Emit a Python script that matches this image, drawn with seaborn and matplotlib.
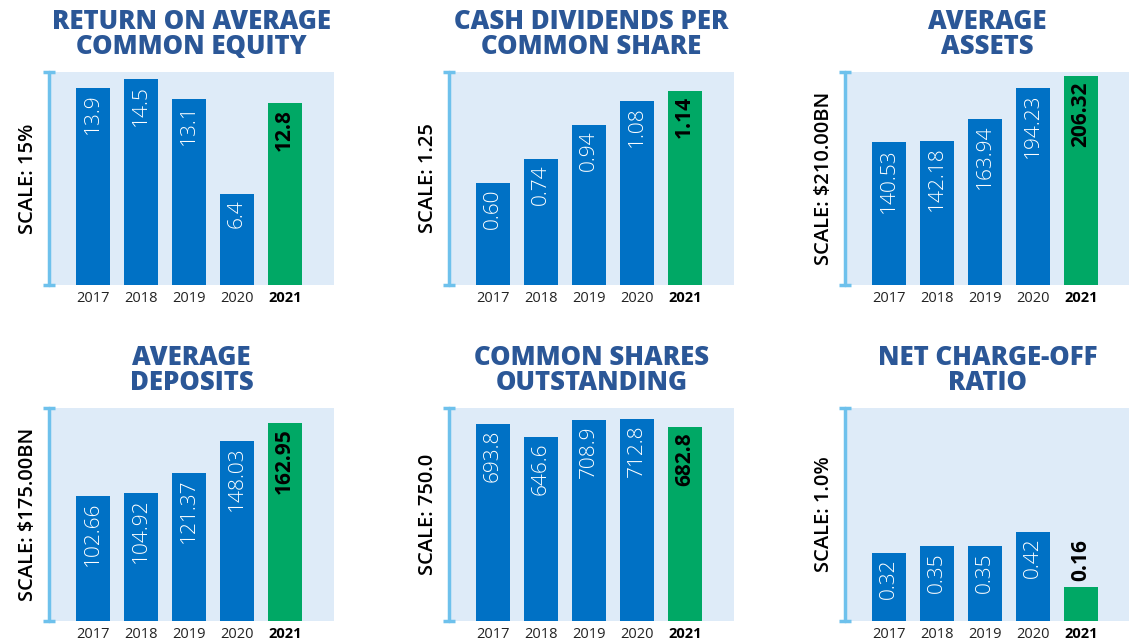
import seaborn as sns
import matplotlib.pyplot as plt

# data
years = ['2017', '2018', '2019', '2020', '2021']

titles = ['RETURN ON AVERAGE\nCOMMON EQUITY', 'CASH DIVIDENDS PER\nCOMMON SHARE', 'AVERAGE\nASSETS',
          'AVERAGE\nDEPOSITS', 'COMMON SHARES\nOUTSTANDING', 'NET CHARGE-OFF\nRATIO']
scale_labels = ['SCALE: 15%', 'SCALE: 1.25', 'SCALE: $210.00BN',
                'SCALE: $175.00BN', 'SCALE: 750.0', 'SCALE: 1.0%']
scale_max = [15, 1.25, 210, 175, 750, 1.0]

roe = [13.9, 14.5, 13.1, 6.4, 12.8]
dividends = [0.60, 0.74, 0.94, 1.08, 1.14]
assets = [140.53, 142.18, 163.94, 194.23, 206.32]
deposits = [102.66, 104.92, 121.37, 148.03, 162.95]
shares = [693.8, 646.6, 708.9, 712.8, 682.8]
charge_off = [0.32, 0.35, 0.35, 0.42, 0.16]

value_labels = [
    ['13.9', '14.5', '13.1', '6.4', '12.8'],
    ['0.60', '0.74', '0.94', '1.08', '1.14'],
    ['140.53', '142.18', '163.94', '194.23', '206.32'],
    ['102.66', '104.92', '121.37', '148.03', '162.95'],
    ['693.8', '646.6', '708.9', '712.8', '682.8'],
    ['0.32', '0.35', '0.35', '0.42', '0.16'],
]
series = [roe, dividends, assets, deposits, shares, charge_off]

# colors
BLUE = '#0071C5'
GREEN = '#00A865'
BG = '#DEEBF8'
BRACKET = '#6EC1EC'
TITLE = '#2B5797'

sns.set_style('white')
plt.rcParams['font.family'] = ['Open Sans', 'DejaVu Sans']

fig = plt.figure(figsize=(11.29, 6.42), dpi=100)

lefts = [49, 449, 845]
bottoms = [285, 621]
W, H = 285, 213

for i, vals in enumerate(series):
    r, c = divmod(i, 3)
    ax = fig.add_axes([lefts[c] / 1129, 1 - bottoms[r] / 642, W / 1129, H / 642])
    ax.set_facecolor(BG)

    sns.barplot(x=years, y=vals, hue=years, palette=[BLUE] * 4 + [GREEN],
                legend=False, width=0.71, saturation=1, linewidth=0, ax=ax)
    ax.set_xlim(-0.92, 5.03)
    ax.set_ylim(0, scale_max[i])
    sns.despine(ax=ax, left=True, bottom=True)
    ax.set_yticks([])
    ax.set_xlabel('')
    ax.set_ylabel('')
    ax.tick_params(axis='x', length=0, pad=4, labelsize=10.5, colors='#222222')
    for lab in ax.get_xticklabels():
        if lab.get_text() == '2021':
            lab.set_fontweight('bold')
            lab.set_color('black')

    # bracket on the left
    ax.plot([0, 0], [0, 1], transform=ax.transAxes, color=BRACKET, lw=2.5, clip_on=False)
    for yy in (0, 1):
        ax.plot([-0.021, 0.021], [yy, yy], transform=ax.transAxes, color=BRACKET, lw=2.5,
                clip_on=False, solid_capstyle='butt')

    ax.text(-0.072, 0.5, scale_labels[i], transform=ax.transAxes, rotation=90,
            ha='center', va='center', fontsize=14.5, fontweight='semibold', color='black')

    ax.set_title(titles[i], fontsize=18.5, fontweight='heavy', color=TITLE,
                 linespacing=0.95, pad=13)

    # value labels
    for j, (v, txt) in enumerate(zip(vals, value_labels[i])):
        last = j == len(vals) - 1
        color = 'black' if last else 'white'
        weight = 'bold' if last else 'light'
        if v / scale_max[i] < 0.25:
            ax.annotate(txt, (j, v), xytext=(0, 4), textcoords='offset points', rotation=90,
                        ha='center', va='bottom', fontsize=15, color='black', fontweight=weight)
        else:
            ax.annotate(txt, (j, v), xytext=(0, -4), textcoords='offset points', rotation=90,
                        ha='center', va='top', fontsize=15, color=color, fontweight=weight)

plt.savefig('out.png', dpi=100)
